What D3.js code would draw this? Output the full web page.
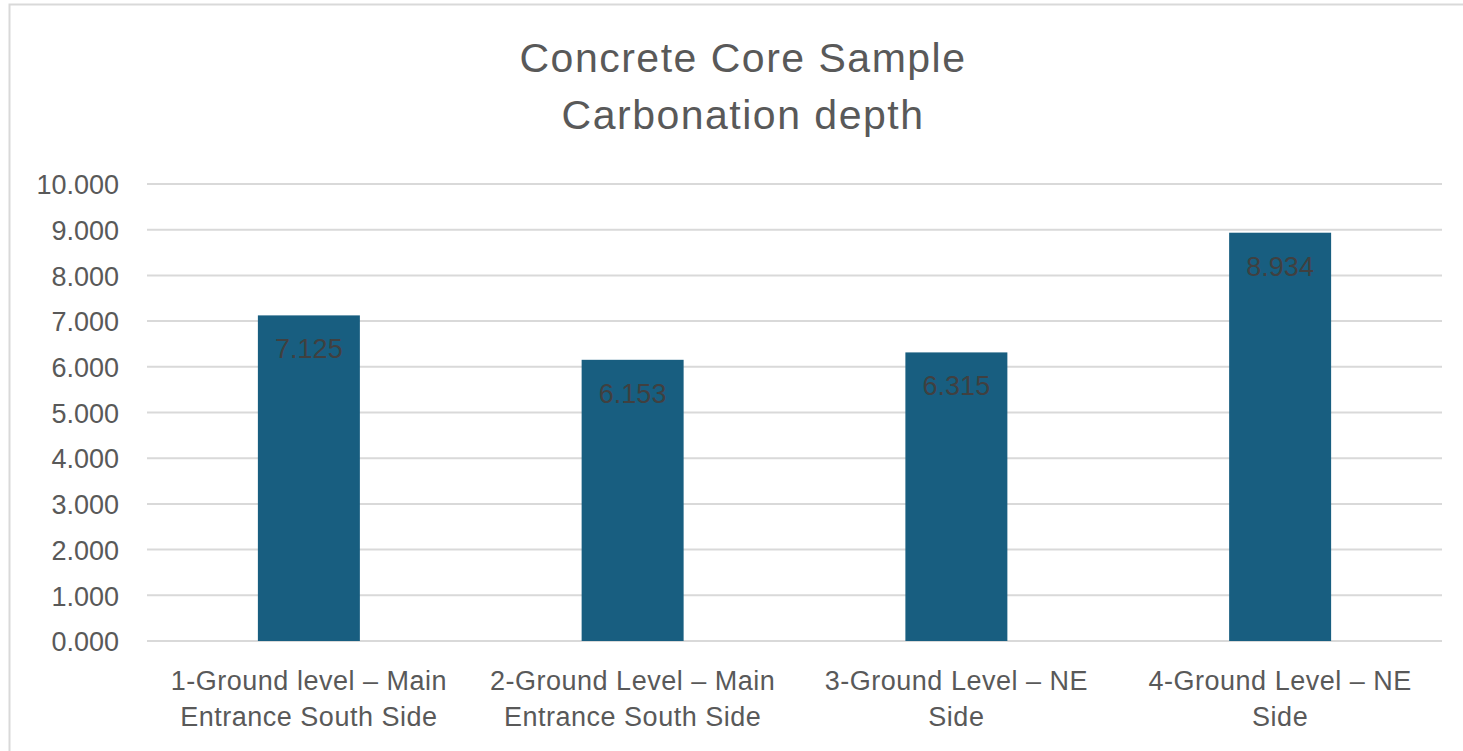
<!DOCTYPE html>
<html>
<head>
<meta charset="utf-8">
<script src="https://cdn.jsdelivr.net/npm/d3@7"></script>
<style>
  html, body { margin: 0; padding: 0; background: #fff; }
  svg { display: block; }
  text { font-family: "Liberation Sans", Arial, sans-serif; }
</style>
</head>
<body>
<svg id="chart" width="1463" height="751"></svg>
<script>
const categories = [
  ["1-Ground level \u2013 Main", "Entrance South Side"],
  ["2-Ground Level \u2013 Main", "Entrance South Side"],
  ["3-Ground Level \u2013 NE", "Side"],
  ["4-Ground Level \u2013 NE", "Side"]
];
const values = [7.125, 6.153, 6.315, 8.934];
const yTicks = [0, 1, 2, 3, 4, 5, 6, 7, 8, 9, 10];
const titleLines = ["Concrete Core Sample", "Carbonation depth"];

const svg = d3.select("#chart");
const W = 1463, H = 751;
const m = { left: 147, right: 21, top: 184, bottom: 110 };

// chart frame
svg.append("rect")
  .attr("x", 9.5).attr("y", 4.5)
  .attr("width", W + 20).attr("height", H + 20)
  .attr("fill", "#fff").attr("stroke", "#d9d9d9").attr("stroke-width", 2);

const x = d3.scaleBand()
  .domain(d3.range(values.length))
  .range([m.left, W - m.right])
  .paddingInner(0.685).paddingOuter(0.3425);

const y = d3.scaleLinear().domain([0, 10]).range([H - m.bottom, m.top]);

// gridlines
svg.append("g")
  .selectAll("line").data(yTicks).join("line")
  .attr("x1", m.left).attr("x2", W - m.right)
  .attr("y1", d => y(d)).attr("y2", d => y(d))
  .attr("stroke", "#d9d9d9").attr("stroke-width", 2);

// y axis labels
const yAxis = d3.axisLeft(y).tickValues(yTicks).tickFormat(d3.format(".3f")).tickSize(0).tickPadding(0);
const ya = svg.append("g").attr("transform", `translate(119,0)`).call(yAxis);
ya.select(".domain").remove();
ya.selectAll("text")
  .attr("fill", "#595959").attr("font-size", 27)
  .attr("font-family", "Liberation Sans, Arial, sans-serif")
  .attr("dy", "0.36em");

// bars
svg.append("g").selectAll("rect").data(values).join("rect")
  .attr("x", (d, i) => x(i)).attr("width", x.bandwidth())
  .attr("y", d => y(d)).attr("height", d => y(0) - y(d))
  .attr("fill", "#185e80");

// data labels
svg.append("g").selectAll("text").data(values).join("text")
  .attr("x", (d, i) => x(i) + x.bandwidth() / 2)
  .attr("y", d => y(d) + 43)
  .attr("text-anchor", "middle")
  .attr("font-size", 27).attr("fill", "#404040")
  .text(d => d3.format(".3f")(d));

// category labels
const xAxis = d3.axisBottom(x).tickSize(0).tickFormat("");
const xa = svg.append("g").attr("transform", `translate(0,${y(0)})`).call(xAxis);
xa.select(".domain").remove();
xa.selectAll(".tick").each(function(d) {
  const t = d3.select(this).append("text")
    .attr("text-anchor", "middle")
    .attr("fill", "#595959").attr("font-size", 27)
    .attr("letter-spacing", 0.5)
    .attr("font-family", "Liberation Sans, Arial, sans-serif");
  categories[d].forEach((line, k) => {
    t.append("tspan").attr("x", 0).attr("y", 49 + k * 36).text(line);
  });
});

// title
const title = svg.append("text")
  .attr("text-anchor", "middle").attr("fill", "#595959")
  .attr("font-size", 41).attr("letter-spacing", 1.5);
titleLines.forEach((line, k) => {
  title.append("tspan").attr("x", 743).attr("y", 72 + k * 57).text(line);
});
</script>
</body>
</html>
